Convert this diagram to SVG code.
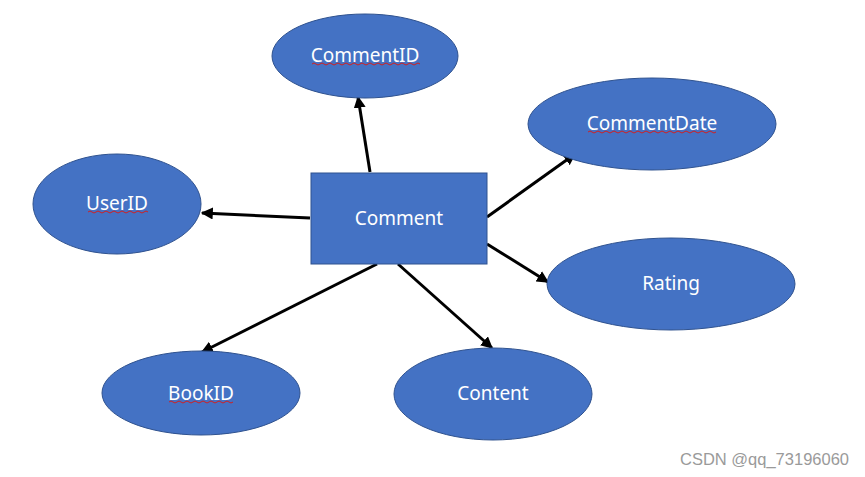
<svg xmlns="http://www.w3.org/2000/svg" width="865" height="477" viewBox="0 0 865 477">
<style>
.n{fill:#4472C4;stroke:#2F528F;stroke-width:1}
.t{fill:#fff;font-family:"Noto Sans","Open Sans",sans-serif;font-size:19px;text-anchor:middle;dominant-baseline:central}
.e{stroke:#000;stroke-width:3;fill:none;marker-end:url(#a)}
.sq{stroke:#d02020;stroke-width:1;fill:none}
</style>
<defs>
<marker id="a" viewBox="0 0 10 10" refX="9" refY="5" markerWidth="4" markerHeight="4" orient="auto" markerUnits="strokeWidth">
<path d="M0,0 L10,5 L0,10 z" fill="#000"/>
</marker>
</defs>
<rect width="865" height="477" fill="#fff"/>
<g id="connectors">
<line class="e" x1="370" y1="172" x2="358" y2="97"/>
<line class="e" x1="310" y1="218" x2="202" y2="213"/>
<line class="e" x1="487" y1="217" x2="575" y2="154"/>
<line class="e" x1="487" y1="244" x2="548" y2="282"/>
<line class="e" x1="377" y1="264" x2="202" y2="352"/>
<line class="e" x1="398" y1="264" x2="492" y2="348"/>
</g>
<g id="Comment"><rect class="n" x="311" y="173" width="176" height="91"/><text class="t" x="399" y="218">Comment</text></g>
<g id="CommentID"><ellipse class="n" cx="365" cy="56" rx="93" ry="42"/><text class="t" x="365" y="55">CommentID</text>
<path class="sq" d="M312,64 q2,-2 4,0 t4,0 t4,0 t4,0 t4,0 t4,0 t4,0 t4,0 t4,0 t4,0 t4,0 t4,0 t4,0 t4,0 t4,0 t4,0 t4,0 t4,0 t4,0 t4,0 t4,0 t4,0 t4,0 t4,0 t4,0 t4,0 t4,0"/></g>
<g id="CommentDate"><ellipse class="n" cx="652" cy="124" rx="124" ry="46"/><text class="t" x="652" y="123">CommentDate</text>
<path class="sq" d="M588,132 q2,-2 4,0 t4,0 t4,0 t4,0 t4,0 t4,0 t4,0 t4,0 t4,0 t4,0 t4,0 t4,0 t4,0 t4,0 t4,0 t4,0 t4,0 t4,0 t4,0 t4,0 t4,0 t4,0 t4,0 t4,0 t4,0 t4,0 t4,0 t4,0 t4,0 t4,0 t4,0 t4,0"/></g>
<g id="UserID"><ellipse class="n" cx="117" cy="204" rx="84" ry="50"/><text class="t" x="117" y="203">UserID</text>
<path class="sq" d="M88,212 q2,-2 4,0 t4,0 t4,0 t4,0 t4,0 t4,0 t4,0 t4,0 t4,0 t4,0 t4,0 t4,0 t4,0 t4,0 t4,0"/></g>
<g id="Rating"><ellipse class="n" cx="671" cy="284" rx="124" ry="46"/><text class="t" x="671" y="283">Rating</text></g>
<g id="BookID"><ellipse class="n" cx="201" cy="393" rx="99" ry="42"/><text class="t" x="201" y="393">BookID</text>
<path class="sq" d="M169,402 q2,-2 4,0 t4,0 t4,0 t4,0 t4,0 t4,0 t4,0 t4,0 t4,0 t4,0 t4,0 t4,0 t4,0 t4,0 t4,0 t4,0"/></g>
<g id="Content"><ellipse class="n" cx="493" cy="394" rx="99" ry="46"/><text class="t" x="493" y="393">Content</text></g>
<text x="680" y="465" fill="#9a9a9a" font-family="Liberation Sans, Arial, sans-serif" font-size="16.5">CSDN @qq_73196060</text>
</svg>
